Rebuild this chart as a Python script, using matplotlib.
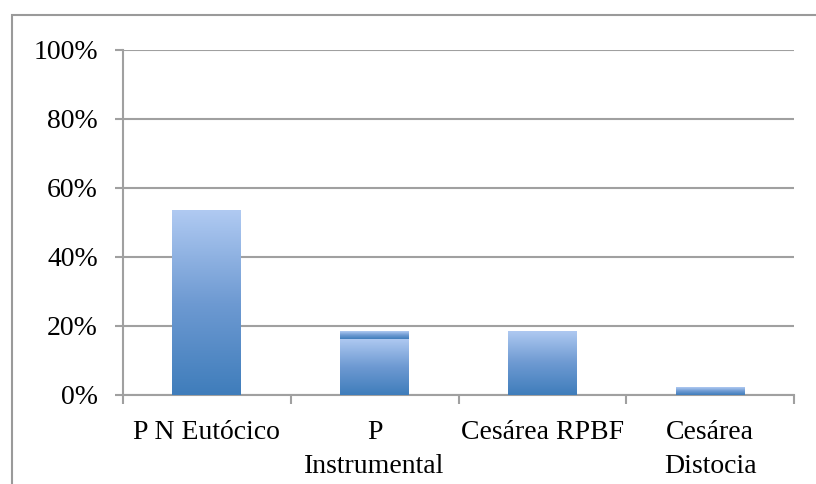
import matplotlib.pyplot as plt
from matplotlib.patches import Rectangle
from matplotlib.colors import LinearSegmentedColormap
from matplotlib.ticker import FixedLocator, PercentFormatter
import numpy as np

categories = ["P N Eutócico", "P\nInstrumental", "Cesárea RPBF", "Cesárea\nDistocia"]
# bar 2 shows two stacked pieces
lower_values = [53.5, 16.3, 18.6, 2.3]
upper_values = [0.0, 2.3, 0.0, 0.0]
y_ticks = [0, 20, 40, 60, 80, 100]

grid_color = "#A0A0A0"
bar_cmap = LinearSegmentedColormap.from_list("bar", ["#3F7DBB", "#6E9AD2", "#B0CAF2"])
plt.rcParams["font.family"] = ["Liberation Serif", "DejaVu Serif"]


def gradient_bar(ax, x, bottom, height, width):
    if height <= 0:
        return
    rect = Rectangle((x - width / 2, bottom), width, height,
                     facecolor="none", edgecolor="none")
    ax.add_patch(rect)
    grad = np.linspace(0, 1, 256).reshape(-1, 1)
    im = ax.imshow(grad, cmap=bar_cmap, origin="lower", aspect="auto",
                   extent=(x - width / 2, x + width / 2, bottom, bottom + height),
                   zorder=3)
    im.set_clip_path(rect)


fig = plt.figure(figsize=(8.16, 4.84), dpi=100)
fig.patches.append(Rectangle((12 / 816, -0.1), 1.2, (484 - 15) / 484 + 0.1,
                             transform=fig.transFigure, facecolor="none",
                             edgecolor="#9A9A9A", linewidth=1.5))
ax = fig.add_axes([123 / 816, 89 / 484, 671 / 816, 345.5 / 484])

xs = np.arange(len(categories))
width = 0.41
for x, lo, up in zip(xs, lower_values, upper_values):
    gradient_bar(ax, x, 0, lo, width)
    gradient_bar(ax, x, lo, up, width)

ax.set_xlim(-0.5, len(categories) - 0.5)
ax.set_ylim(0, 100)
ax.set_yticks(y_ticks)
ax.yaxis.set_major_formatter(PercentFormatter(decimals=0))
ax.yaxis.grid(True, color=grid_color, linewidth=1.5)
ax.set_axisbelow(True)

ax.xaxis.set_major_locator(FixedLocator(np.arange(-0.5, len(categories), 1.0)))
ax.xaxis.set_major_formatter(plt.NullFormatter())
ax.xaxis.set_minor_locator(FixedLocator(xs))
ax.set_xticklabels(categories, minor=True)
for lbl in ax.get_xticklabels(minor=True):
    lbl.set_linespacing(1.45)
ax.tick_params(axis="x", which="minor", length=0, labelsize=20, pad=18)
ax.tick_params(axis="x", which="major", length=6.5, width=1.5, color=grid_color)
ax.tick_params(axis="y", length=6, width=1.5, color=grid_color, labelsize=20, pad=12)

for side in ["top", "right"]:
    ax.spines[side].set_visible(False)
for side in ["left", "bottom"]:
    ax.spines[side].set_color(grid_color)
    ax.spines[side].set_linewidth(1.5)

fig.savefig("out.png", dpi=100)
